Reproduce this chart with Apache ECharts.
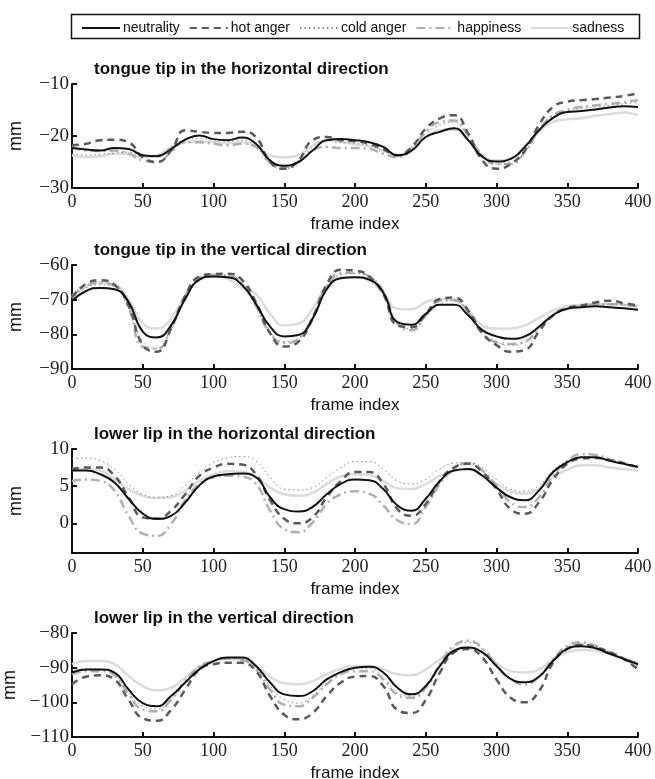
<!DOCTYPE html>
<html>
<head>
<meta charset="utf-8">
<script src="https://cdn.jsdelivr.net/npm/echarts@6/dist/echarts.min.js"></script>
<style>
  html, body { margin: 0; padding: 0; background: #fff; }
  #chart { width: 655px; height: 779px; }
</style>
</head>
<body>
<div id="chart"></div>
<script>
// 四个子图：舌尖/下唇 的水平和垂直运动轨迹

var emotions = ['neutrality', 'hot anger', 'cold anger', 'happiness', 'sadness'];
var frames = [0, 10, 20, 30, 40, 50, 60, 70, 80, 90, 100, 110, 120, 130, 140, 150, 160, 170, 180, 190, 200,
              210, 220, 230, 240, 250, 260, 270, 280, 290, 300, 310, 320, 330, 340, 350, 360, 370, 380, 390, 400];
var panelTitles = [
    'tongue tip in the horizontal direction',
    'tongue tip in the vertical direction',
    'lower lip in the horizontal direction',
    'lower lip in the vertical direction'
];

// tongue tip, horizontal
var tthNeutral = [-22.3, -22.6, -22.8, -22.3, -22.5, -23.7, -23.9, -22.5, -20.7, -19.9, -20.6, -20.8, -20.3, -21.5, -24.7, -25.7, -25.0, -22.8, -20.8, -20.6, -20.8,
                  -21.2, -22.1, -23.7, -22.8, -20.2, -19.2, -18.5, -20.8, -24.0, -24.9, -24.4, -22.1, -18.9, -16.5, -15.4, -15.2, -14.9, -14.5, -14.3, -14.4];
var tthHot     = [-21.8, -21.5, -20.8, -20.7, -21.2, -24.1, -25.0, -22.8, -18.9, -19.2, -19.4, -19.4, -19.2, -20.2, -25.0, -26.3, -24.7, -20.8, -20.2, -20.8, -21.0,
                  -21.5, -22.5, -23.7, -22.1, -18.6, -16.6, -16.0, -19.5, -24.7, -26.3, -25.4, -22.8, -17.9, -14.4, -13.4, -13.1, -12.9, -12.6, -12.3, -11.8];
var tthCold    = [-23.4, -23.7, -23.5, -23.3, -23.1, -23.9, -23.9, -22.1, -20.8, -20.5, -20.8, -21.0, -20.8, -22.1, -25.4, -26.3, -25.4, -22.1, -20.8, -21.2, -21.4,
                  -21.8, -22.8, -23.7, -22.1, -19.5, -17.9, -17.3, -20.2, -23.7, -25.4, -25.0, -22.1, -18.6, -16.0, -15.2, -14.7, -14.4, -14.1, -13.8, -13.5];
var tthHappy   = [-22.1, -22.8, -22.9, -22.8, -23.4, -24.7, -25.0, -23.1, -21.2, -21.2, -21.5, -21.8, -21.5, -22.1, -25.0, -26.0, -25.0, -22.8, -22.1, -22.3, -22.3,
                  -22.5, -23.4, -24.1, -22.5, -19.2, -17.3, -17.0, -19.9, -23.7, -25.4, -25.4, -23.1, -18.9, -16.0, -15.0, -14.4, -14.1, -13.8, -13.5, -13.1];
var tthSad     = [-23.7, -24.1, -23.9, -23.4, -23.4, -24.1, -23.7, -22.1, -21.2, -21.0, -21.2, -21.4, -21.2, -22.1, -23.7, -24.1, -23.7, -21.8, -20.8, -21.2, -21.6,
                  -22.0, -22.8, -23.7, -22.5, -20.2, -18.9, -18.8, -20.8, -23.7, -24.7, -24.4, -22.1, -19.2, -17.3, -16.8, -16.6, -16.1, -15.8, -15.5, -16.0];

// tongue tip, vertical
var ttvNeutral = [-70.3, -67.5, -66.6, -67.0, -70.7, -79.2, -80.9, -77.4, -69.8, -64.2, -63.3, -63.5, -65.7, -71.2, -77.8, -80.6, -80.2, -75.5, -67.0, -63.8, -63.5,
                  -64.2, -68.0, -76.5, -77.2, -74.1, -71.5, -71.5, -74.5, -78.8, -80.6, -81.3, -80.6, -77.8, -74.5, -72.6, -72.2, -71.9, -72.2, -72.5, -72.9];
var ttvHot     = [-69.4, -65.4, -64.4, -65.7, -71.8, -83.1, -85.0, -78.3, -68.9, -63.3, -62.6, -62.5, -64.2, -70.8, -79.7, -83.5, -82.1, -75.5, -65.6, -61.4, -61.6,
                  -63.3, -68.4, -77.4, -77.9, -74.1, -69.8, -69.4, -73.1, -79.7, -83.1, -85.0, -84.5, -79.2, -74.5, -72.4, -71.7, -70.8, -70.3, -71.0, -71.7];
var ttvCold    = [-69.8, -66.6, -65.7, -66.2, -71.8, -82.1, -84.0, -78.3, -69.8, -64.6, -63.3, -63.1, -65.0, -71.3, -79.2, -82.1, -81.1, -75.0, -66.6, -62.8, -62.5,
                  -63.8, -68.4, -76.9, -78.3, -75.0, -71.3, -70.3, -73.6, -79.2, -82.1, -83.1, -82.3, -78.3, -74.5, -72.6, -71.9, -71.3, -71.3, -71.5, -72.2];
var ttvHappy   = [-68.9, -66.1, -65.2, -65.9, -72.3, -83.6, -84.2, -78.3, -68.9, -63.8, -62.8, -63.1, -65.2, -71.8, -79.7, -82.5, -81.3, -75.0, -66.1, -62.4, -62.2,
                  -63.3, -67.6, -76.9, -78.8, -74.5, -70.3, -70.0, -73.6, -79.7, -82.3, -82.8, -82.1, -78.3, -74.3, -72.6, -71.9, -71.3, -71.3, -71.5, -71.9];
var ttvSad     = [-69.4, -66.1, -65.0, -65.7, -69.8, -76.9, -78.3, -75.5, -68.9, -64.2, -63.1, -64.0, -66.6, -68.4, -74.1, -77.4, -76.9, -72.6, -66.1, -63.5, -63.5,
                  -64.6, -68.0, -72.6, -72.8, -70.7, -69.8, -70.3, -73.1, -77.4, -78.3, -78.3, -77.4, -75.3, -73.1, -71.9, -71.5, -71.3, -71.3, -71.5, -71.9];

// lower lip, horizontal
var llhNeutral = [7.1, 7.1, 6.6, 5.5, 3.3, 1.3, 0.6, 1.0, 2.8, 5.1, 6.3, 6.6, 6.7, 6.2, 3.5, 1.9, 1.6, 2.2, 3.9, 5.3, 5.9,
                  5.8, 4.6, 2.4, 1.7, 3.3, 5.7, 7.1, 7.3, 6.4, 4.8, 3.5, 3.1, 4.4, 6.9, 8.2, 8.9, 8.9, 8.4, 8.0, 7.6];
var llhHot     = [7.3, 7.5, 7.5, 6.4, 3.5, 0.8, 0.6, 1.7, 3.9, 6.4, 7.5, 8.0, 7.9, 6.6, 3.1, 0.6, 0.0, 0.8, 3.5, 5.7, 6.9,
                  6.9, 5.3, 1.9, 1.0, 2.6, 5.7, 7.5, 8.0, 6.9, 4.6, 1.9, 1.3, 2.8, 5.9, 8.0, 8.7, 8.8, 8.5, 8.1, 7.5];
var llhCold    = [8.7, 8.8, 8.4, 7.3, 5.3, 3.9, 3.5, 3.7, 5.1, 6.9, 8.2, 8.8, 9.0, 8.4, 6.2, 4.6, 4.5, 4.8, 6.2, 7.5, 8.3,
                  8.3, 7.3, 5.7, 5.3, 5.9, 7.3, 8.1, 8.2, 7.5, 5.9, 4.6, 4.3, 5.1, 7.1, 8.4, 8.9, 8.8, 8.4, 8.0, 7.5];
var llhHappy   = [5.7, 5.9, 5.7, 4.4, 1.0, -1.4, -1.7, -0.1, 3.1, 5.3, 6.2, 6.4, 6.3, 5.3, 1.7, -0.8, -1.2, 0.1, 2.6, 3.9, 4.3,
                  4.0, 2.4, 0.4, -0.1, 2.2, 5.3, 7.3, 8.1, 7.1, 5.1, 2.8, 2.2, 3.5, 6.4, 8.4, 9.3, 9.2, 8.6, 8.0, 7.5];
var llhSad     = [7.3, 7.3, 7.1, 5.9, 4.6, 3.7, 3.4, 3.5, 4.4, 5.7, 6.6, 7.0, 6.9, 6.2, 4.8, 3.9, 3.7, 4.1, 5.3, 6.3, 6.6,
                  6.5, 5.7, 4.7, 4.6, 5.3, 6.4, 7.1, 7.2, 6.5, 5.3, 4.3, 4.0, 4.7, 6.2, 7.2, 7.8, 7.8, 7.5, 7.3, 7.1];
var llhTicks = [0, 5, 10];

// lower lip, vertical
var llvNeutral = [-91.4, -90.5, -90.5, -91.4, -96.3, -100.2, -101.1, -98.2, -94.3, -90.5, -88.1, -87.1, -87.1, -89.5, -94.3, -97.7, -98.2, -96.8, -93.4, -91.3, -90.0,
                  -89.7, -91.4, -95.8, -97.7, -95.3, -89.5, -85.1, -84.2, -85.6, -89.5, -93.2, -94.2, -92.6, -88.1, -84.6, -83.8, -84.4, -86.0, -87.5, -89.0];
var llvHot     = [-94.8, -92.6, -92.2, -93.4, -99.3, -104.6, -105.3, -102.2, -96.4, -90.5, -89.0, -88.6, -88.6, -91.0, -98.2, -103.6, -104.9, -103.1, -98.2, -94.3, -92.6,
                  -92.4, -95.3, -102.2, -103.1, -99.3, -91.4, -85.6, -84.6, -87.1, -93.4, -98.7, -100.0, -96.8, -88.6, -84.6, -83.4, -84.1, -85.5, -87.5, -90.5];
var llvCold    = [-90.5, -90.3, -90.5, -91.9, -97.3, -101.1, -101.9, -99.2, -94.3, -90.0, -88.1, -87.4, -87.6, -90.0, -95.3, -99.2, -100.2, -98.2, -94.3, -91.4, -90.3,
                  -90.3, -92.6, -97.3, -98.2, -95.3, -89.5, -84.2, -82.7, -84.6, -89.0, -93.2, -94.3, -92.6, -87.6, -84.2, -83.2, -83.9, -85.6, -87.1, -88.6];
var llvHappy   = [-91.9, -91.0, -91.0, -92.2, -97.7, -102.1, -102.6, -99.2, -93.9, -89.7, -88.1, -87.4, -87.8, -90.5, -96.3, -100.7, -101.1, -98.7, -94.8, -91.9, -91.0,
                  -91.0, -93.4, -97.8, -98.7, -95.8, -89.0, -83.7, -82.2, -84.4, -89.3, -93.4, -94.8, -92.6, -87.6, -83.7, -82.7, -83.7, -85.6, -87.5, -89.5];
var llvSad     = [-89.0, -88.1, -88.1, -89.0, -92.4, -95.3, -96.5, -95.8, -92.9, -89.7, -88.1, -87.4, -87.6, -89.3, -92.6, -94.5, -94.8, -93.9, -91.9, -90.3, -89.5,
                  -89.5, -90.5, -91.9, -92.2, -90.5, -87.6, -85.1, -84.5, -85.6, -88.6, -91.0, -91.4, -90.5, -87.6, -85.6, -84.9, -85.1, -86.0, -87.5, -88.7];

var panelData = [
    [tthNeutral, tthHot, tthCold, tthHappy, tthSad],
    [ttvNeutral, ttvHot, ttvCold, ttvHappy, ttvSad],
    [llhNeutral, llhHot, llhCold, llhHappy, llhSad],
    [llvNeutral, llvHot, llvCold, llvHappy, llvSad]
];
var yRanges = [[-30, -10], [-90, -60], [-4, 10], [-110, -80]];

// 线型：黑实线 / 深灰虚线 / 点线 / 浅灰点划线 / 很浅的实线
var lineStyles = [
    { color: '#111111', width: 2, type: 'solid' },
    { color: '#5a5a5a', width: 2.5, type: [7, 5] },
    { color: '#8a8a8a', width: 1, type: [1.5, 3] },
    { color: '#b0b0b0', width: 2.5, type: [9, 4, 2, 4] },
    { color: '#dcdcdc', width: 2.5, type: 'solid' }
];

var gridTops = [84, 265, 449, 633];
var fmtMinus = function (v) { return String(v).replace('-', '\u2212'); };

var grids = [], xAxes = [], yAxes = [], titles = [], series = [];
for (var p = 0; p < 4; p++) {
    grids.push({ left: 72, right: 17, top: gridTops[p], height: 104, outerBoundsMode: 'none', containLabel: false });
    titles.push({
        text: panelTitles[p], left: 89, top: gridTops[p] - 28,
        textStyle: { fontFamily: 'Liberation Sans', fontWeight: 'bold', fontSize: 17, color: '#111' }
    });
    xAxes.push({
        type: 'value', gridIndex: p, min: 0, max: 400, interval: 50,
        name: 'frame index', nameLocation: 'middle', nameGap: 28,
        nameTextStyle: { fontFamily: 'Liberation Sans', fontSize: 17, color: '#111' },
        axisLine: { onZero: false, lineStyle: { color: '#111', width: 2 } },
        axisTick: { inside: true, length: 5, lineStyle: { color: '#111', width: 2 } },
        axisLabel: { fontFamily: 'Liberation Serif', fontSize: 18, color: '#222', margin: 5 },
        splitLine: { show: false }
    });
    var y = {
        type: 'value', gridIndex: p, min: yRanges[p][0], max: yRanges[p][1],
        name: 'mm', nameLocation: 'middle', nameGap: 47,
        nameTextStyle: { fontFamily: 'Liberation Sans', fontSize: 18, color: '#111' },
        axisLine: { show: true, onZero: false, lineStyle: { color: '#111', width: 2 } },
        axisTick: { show: true, inside: true, length: 5, lineStyle: { color: '#111', width: 2 } },
        axisLabel: { fontFamily: 'Liberation Serif', fontSize: 19, color: '#222', margin: 3, formatter: fmtMinus },
        splitLine: { show: false }
    };
    if (p === 2) {
        y.axisTick.customValues = llhTicks;
        y.axisLabel.customValues = llhTicks;
    } else {
        y.interval = 10;
    }
    yAxes.push(y);

    for (var s = 0; s < emotions.length; s++) {
        var vals = panelData[p][s];
        var pts = [];
        for (var i = 0; i < frames.length; i++) pts.push([frames[i], vals[i]]);
        series.push({
            name: emotions[s], type: 'line', xAxisIndex: p, yAxisIndex: p,
            data: pts, smooth: 0.5, symbol: 'none',
            lineStyle: lineStyles[s], itemStyle: { color: lineStyles[s].color },
            z: 10 - s
        });
    }
}

var chart = echarts.init(document.getElementById('chart'));
chart.setOption({
    backgroundColor: '#fff',
    animation: false,
    title: titles,
    legend: {
        data: emotions, left: 76, top: 16, itemWidth: 38, itemHeight: 10, itemGap: 9,
        itemStyle: { opacity: 0 },
        textStyle: { fontFamily: 'Liberation Sans', fontSize: 14, color: '#111', padding: [0, 0, 0, -2] }
    },
    graphic: [{
        type: 'rect', left: 69, top: 12,
        shape: { width: 568, height: 24 },
        style: { fill: 'none', stroke: '#111', lineWidth: 1.5 }
    }],
    grid: grids,
    xAxis: xAxes,
    yAxis: yAxes,
    series: series
});
</script>
</body>
</html>
